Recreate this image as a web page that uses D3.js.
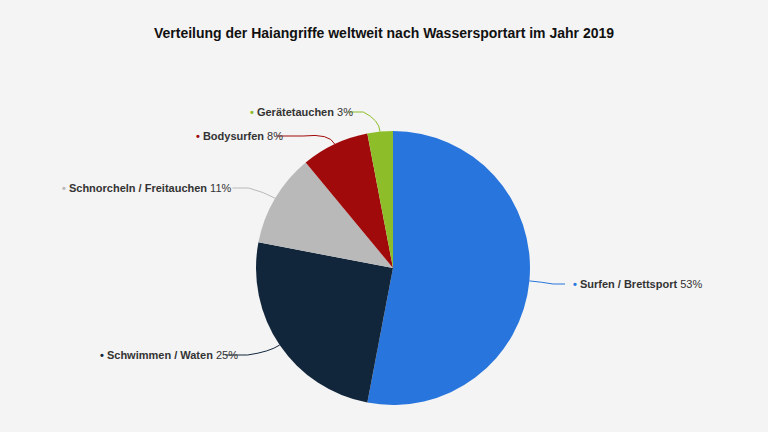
<!DOCTYPE html>
<html><head><meta charset="utf-8">
<script src="https://cdn.jsdelivr.net/npm/d3@7"></script>
<style>body{margin:0;background:#f4f4f4;font-family:"Liberation Sans",Arial,sans-serif}</style>
</head><body><svg id="c" width="768" height="432"></svg>
<script>
const categories = ["Surfen / Brettsport","Schwimmen / Waten","Schnorcheln / Freitauchen","Bodysurfen","Gerätetauchen"];
const values = [53,25,11,8,3];
const colors = ["#2876dd","#12263b","#b9b9b9","#a10a0a","#8dbe2a"];
// label anchor points (text start) and side
const labelPos = [[573,288,"start"],[100,359,"start"],[62,192,"start"],[196,140,"start"],[250,116,"start"]];

const svg = d3.select("#c");
svg.append("text").attr("x",384).attr("y",38).attr("text-anchor","middle")
  .attr("font-size",14).attr("font-weight","bold").attr("fill","#111")
  .text("Verteilung der Haiangriffe weltweit nach Wassersportart im Jahr 2019");

const cx = 393, cy = 268, r = 137;
const pie = d3.pie().sort(null).value(d=>d)(values);
const arc = d3.arc().innerRadius(0).outerRadius(r);
const g = svg.append("g").attr("transform",`translate(${cx},${cy})`);
g.selectAll("path").data(pie).enter().append("path")
  .attr("d",arc).attr("fill",(d,i)=>colors[i]);

pie.forEach((d,i)=>{
  const a = (d.startAngle+d.endAngle)/2;
  const x0 = cx + Math.sin(a)*r, y0 = cy - Math.cos(a)*r;
  const [lx,ly,anchor] = labelPos[i];
  const tw = i===0 ? -8 : null;
  let ex, ey = ly-4;
  if (i===0) ex = lx-8;
  else {
    const txt = categories[i]+" "+values[i]+"%";
    ex = lx + txt.length*5.6 + 8;
  }
  const mx = x0 + Math.sin(a)*12, my = y0 - Math.cos(a)*12;
  svg.append("path").attr("fill","none").attr("stroke",colors[i]).attr("stroke-width",1)
    .attr("d",`M${x0},${y0} Q${mx},${my} ${(mx+ex)/2},${ey} L${ex},${ey}`);
  const t = svg.append("text").attr("x",lx).attr("y",ly).attr("font-size",11).attr("fill","#333");
  t.append("tspan").attr("fill",colors[i]).attr("font-weight","bold").text("• ");
  t.append("tspan").attr("font-weight","bold").text(categories[i]);
  t.append("tspan").text(" "+values[i]+"%");
});
</script></body></html>
